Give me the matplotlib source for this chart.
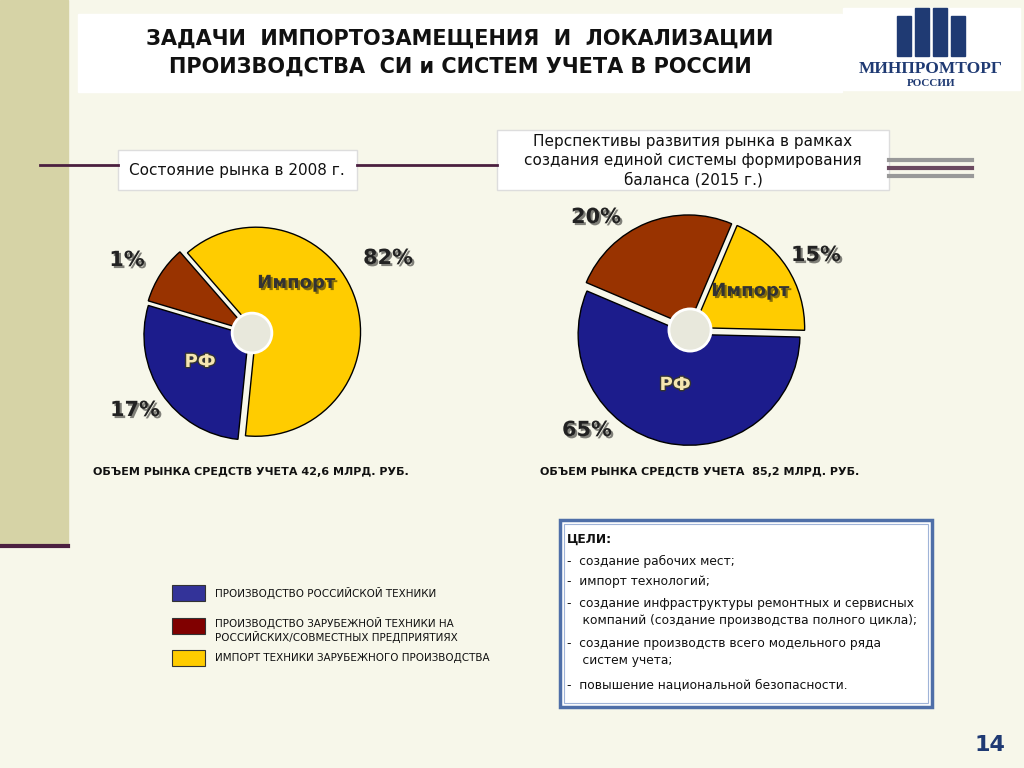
import matplotlib.pyplot as plt
from matplotlib.patches import Rectangle, Circle
import matplotlib.patheffects as pe

# drawn shares of the wedges (as they appear on the slide) and the printed labels
pie1_sizes = [63, 28, 9]      # import, RF, foreign-on-RF
pie1_labels = ["82%", "17%", "1%"]
pie2_sizes = [19, 56, 25]
pie2_labels = ["15%", "65%", "20%"]
colors = ["#FFCC00", "#1C1C8C", "#993300"]

legend_items = ["ПРОИЗВОДСТВО РОССИЙСКОЙ ТЕХНИКИ",
                "ПРОИЗВОДСТВО ЗАРУБЕЖНОЙ ТЕХНИКИ НА\nРОССИЙСКИХ/СОВМЕСТНЫХ ПРЕДПРИЯТИЯХ",
                "ИМПОРТ ТЕХНИКИ ЗАРУБЕЖНОГО ПРОИЗВОДСТВА"]
legend_colors = ["#333399", "#800000", "#FFCC00"]

goals = ["ЦЕЛИ:",
         "-  создание рабочих мест;",
         "-  импорт технологий;",
         "-  создание инфраструктуры ремонтных и сервисных\n    компаний (создание производства полного цикла);",
         "-  создание производств всего модельного ряда\n    систем учета;",
         "-  повышение национальной безопасности."]

fig = plt.figure(figsize=(10.24, 7.68), dpi=100)
fig.patch.set_facecolor("#F7F7EA")
ax = fig.add_axes([0, 0, 1, 1])
ax.set_xlim(0, 1024)
ax.set_ylim(768, 0)
ax.axis("off")
ax.set_zorder(5)

# left strip and decorative lines
ax.add_patch(Rectangle((0, 0), 68, 545, color="#D6D3A6", zorder=0))
ax.plot([0, 68], [546, 546], color="#4B1F3F", lw=3)
ax.plot([40, 118], [165, 165], color="#4B1F3F", lw=2)
ax.plot([357, 497], [165, 165], color="#4B1F3F", lw=2)
for y, c in [(160, "#999999"), (168, "#6B4A60"), (176, "#999999")]:
    ax.plot([889, 972], [y, y], color=c, lw=3)

# title
ax.add_patch(Rectangle((78, 14), 764, 78, color="white", zorder=1))
ax.text(460, 53, "ЗАДАЧИ  ИМПОРТОЗАМЕЩЕНИЯ  И  ЛОКАЛИЗАЦИИ\nПРОИЗВОДСТВА  СИ и СИСТЕМ УЧЕТА В РОССИИ",
        ha="center", va="center", fontsize=15, fontweight="bold", color="#111111",
        linespacing=1.5, zorder=2)

# logo
ax.add_patch(Rectangle((843, 8), 177, 82, color="white", zorder=1))
for x0, h in [(897, 40), (915, 48), (933, 48), (951, 40)]:
    ax.add_patch(Rectangle((x0, 56 - h), 14, h, color="#1F3A73", zorder=2))
ax.text(931, 69, "МИНПРОМТОРГ", ha="center", va="center", fontsize=12.5,
        fontweight="bold", family="Liberation Serif", color="#1F3A73", zorder=3)
ax.text(931, 83, "РОССИИ", ha="center", va="center", fontsize=8,
        fontweight="bold", family="Liberation Serif", color="#1F3A73", zorder=3)

# headers
ax.add_patch(Rectangle((118, 150), 239, 40, facecolor="white", edgecolor="#DDDDDD", zorder=1))
ax.text(237, 171, "Состояние рынка в 2008 г.", ha="center", va="center", fontsize=11, color="#111111")
ax.add_patch(Rectangle((497, 130), 392, 60, facecolor="white", edgecolor="#DDDDDD", zorder=1))
ax.text(693, 161, "Перспективы развития рынка в рамках\nсоздания единой системы формирования\nбаланса (2015 г.)",
        ha="center", va="center", fontsize=11, color="#111111", linespacing=1.3)

shadow = [pe.withSimplePatchShadow(offset=(1.5, -1.5), alpha=0.5)]


def draw_pie(rect, sizes, start):
    a = fig.add_axes(rect)
    a.pie(sizes, colors=colors, startangle=start, counterclock=False,
          explode=[0.04] * len(sizes),
          wedgeprops=dict(edgecolor="black", linewidth=1))
    a.add_patch(Circle((0, 0), 0.19, facecolor="#E8E8DC", edgecolor="white", lw=2, zorder=5))
    a.set_xlim(-1.1, 1.1)
    a.set_ylim(-1.1, 1.1)
    a.set_aspect("equal")
    a.axis("off")


draw_pie([137 / 1024, 1 - 448 / 768, 230 / 1024, 230 / 768], pie1_sizes, 131)
draw_pie([568 / 1024, 1 - 452 / 768, 244 / 1024, 244 / 768], pie2_sizes, 67)

# pie labels
for x, y, t in [(388, 258, pie1_labels[0]), (135, 410, pie1_labels[1]), (127, 260, pie1_labels[2]),
                (816, 255, pie2_labels[0]), (587, 430, pie2_labels[1]), (596, 217, pie2_labels[2])]:
    ax.text(x, y, t, ha="center", va="center", fontsize=15, fontweight="bold",
            color="#222222", path_effects=shadow, zorder=10)
for x, y in [(296, 283), (750, 291)]:
    ax.text(x, y, "Импорт", ha="center", va="center", fontsize=13, fontweight="bold",
            color="#333333", path_effects=shadow, zorder=10)
for x, y in [(200, 362), (675, 385)]:
    ax.text(x, y, "РФ", ha="center", va="center", fontsize=13, fontweight="bold",
            color="#F5E6B0", path_effects=[pe.withStroke(linewidth=2, foreground="#333333")], zorder=10)

ax.text(93, 472, "ОБЪЕМ РЫНКА СРЕДСТВ УЧЕТА 42,6 МЛРД. РУБ.", fontsize=8, fontweight="bold",
        va="center", color="#111111")
ax.text(540, 472, "ОБЪЕМ РЫНКА СРЕДСТВ УЧЕТА  85,2 МЛРД. РУБ.", fontsize=8, fontweight="bold",
        va="center", color="#111111")

# legend
for i, (t, c) in enumerate(zip(legend_items, legend_colors)):
    y = [585, 618, 650][i]
    ax.add_patch(Rectangle((172, y), 33, 16, facecolor=c, edgecolor="#333333", lw=0.8))
    ax.text(215, y + 8 + (4 if i == 1 else 0), t, fontsize=7.5, va="center", color="#111111",
            linespacing=1.2)

# goals box
ax.add_patch(Rectangle((560, 520), 372, 187, facecolor="white", edgecolor="#4F6FA8", lw=2.5))
ax.add_patch(Rectangle((564, 524), 364, 179, facecolor="none", edgecolor="#A0B4D8", lw=0.8))
gy = [539, 561, 582, 612, 652, 685]
for t, y in zip(goals, gy):
    ax.text(567, y, t, fontsize=8.8, va="center", color="#111111", linespacing=1.35,
            fontweight="bold" if t == "ЦЕЛИ:" else "normal")

ax.text(990, 745, "14", ha="center", va="center", fontsize=16, fontweight="bold", color="#1F3A73")

fig.savefig("out.png", dpi=100, facecolor=fig.get_facecolor())
